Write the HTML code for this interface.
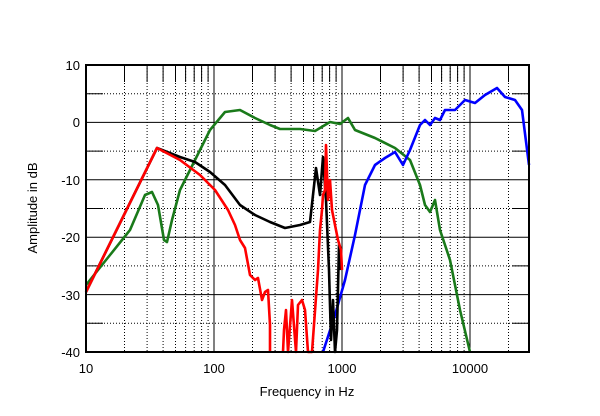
<!DOCTYPE html>
<html><head><meta charset="utf-8"><style>
body{margin:0;background:#fff;}
svg{display:block;font-family:"Liberation Sans",Arial,sans-serif;}
</style></head><body>
<svg width="600" height="416" viewBox="0 0 600 416" xmlns="http://www.w3.org/2000/svg">
<g stroke="#000" stroke-width="1" fill="none">
<path stroke-dasharray="1,2" d="M124.5,65V352M147.1,65V352M163.1,65V352M175.5,65V352M185.6,65V352M194.2,65V352M201.6,65V352M208.1,65V352M252.5,65V352M275.1,65V352M291.1,65V352M303.5,65V352M313.6,65V352M322.2,65V352M329.6,65V352M336.1,65V352M380.5,65V352M403.1,65V352M419.1,65V352M431.5,65V352M441.6,65V352M450.2,65V352M457.6,65V352M464.1,65V352M508.5,65V352M86,93.7H529M86,151.1H529M86,208.5H529M86,265.9H529M86,323.3H529"/>
<path d="M124.5,65V82M147.1,65V82M163.1,65V82M175.5,65V82M185.6,65V82M194.2,65V82M201.6,65V82M208.1,65V82M252.5,65V82M275.1,65V82M291.1,65V82M303.5,65V82M313.6,65V82M322.2,65V82M329.6,65V82M336.1,65V82M380.5,65V82M403.1,65V82M419.1,65V82M431.5,65V82M441.6,65V82M450.2,65V82M457.6,65V82M464.1,65V82M508.5,65V82"/>
<path d="M86,93.7H103M512,93.7H529M86,151.1H103M512,151.1H529M86,208.5H103M512,208.5H529M86,265.9H103M512,265.9H529M86,323.3H103M512,323.3H529"/>
<path d="M214,65V352M342,65V352M470,65V352M86,122.4H529M86,179.8H529M86,237.2H529M86,294.6H529"/>
</g>
<g fill="none" stroke-width="2.6" stroke-linejoin="round">
<polyline stroke="#1a7a1a" points="86,285 110,255 130,230 145,195 152,192 158,205 164,240 167,242 172,220 180,190 195,160 210,130 225,112 240,110 255,118 270,125 280,129 300,129 315,131 330,122 340,124 348,118 355,130 375,138 395,148 410,160 420,185 425,205 430,212 435,200 440,230 450,260 460,310 470,352"/>
<polyline stroke="#0000ff" points="323,352 335,315 345,280 355,235 365,185 375,165 385,158 395,152 403,165 410,150 420,125 425,120 430,125 435,118 440,120 445,110 455,110 465,100 475,103 485,95 497,88 505,97 515,100 522,110 529,165"/>
<polyline stroke="#000" points="86,292 157,148 180,157 195,162 210,172 225,185 240,205 255,215 270,222 285,228 300,225 310,222 316,168 320,195 323,157 326,200 329,270 331,340 333,300 335,352 337,330 339,245 341,270"/>
<polyline stroke="#ff0000" points="86,292 157,148 180,160 200,175 215,190 228,210 235,225 240,240 245,248 250,275 255,280 258,278 262,300 265,292 268,290 270,325 270,352"/>
<polyline stroke="#ff0000" points="283,352 284,330 286,310 288,352 292,300 296,352 298,305 302,300 305,310 308,352 312,352 318,270 320,230 322,210 323,195 325,190 326,145 328,200 330,180 332,210 335,225 338,240 341,250 342,270"/>
</g>
<rect x="86" y="65" width="443" height="287" fill="none" stroke="#000" stroke-width="2"/>
<g font-size="13" text-anchor="end">
<text x="80" y="70">10</text><text x="80" y="127">0</text><text x="80" y="185">-10</text><text x="80" y="242">-20</text><text x="80" y="300">-30</text><text x="80" y="357">-40</text>
</g>
<g font-size="13" text-anchor="middle">
<text x="86" y="373">10</text><text x="214" y="373">100</text><text x="342" y="373">1000</text><text x="470" y="373">10000</text>
<text x="307" y="396">Frequency  in Hz</text>
<text transform="translate(37,208) rotate(-90)">Amplitude in dB</text>
</g>
</svg>
</body></html>
